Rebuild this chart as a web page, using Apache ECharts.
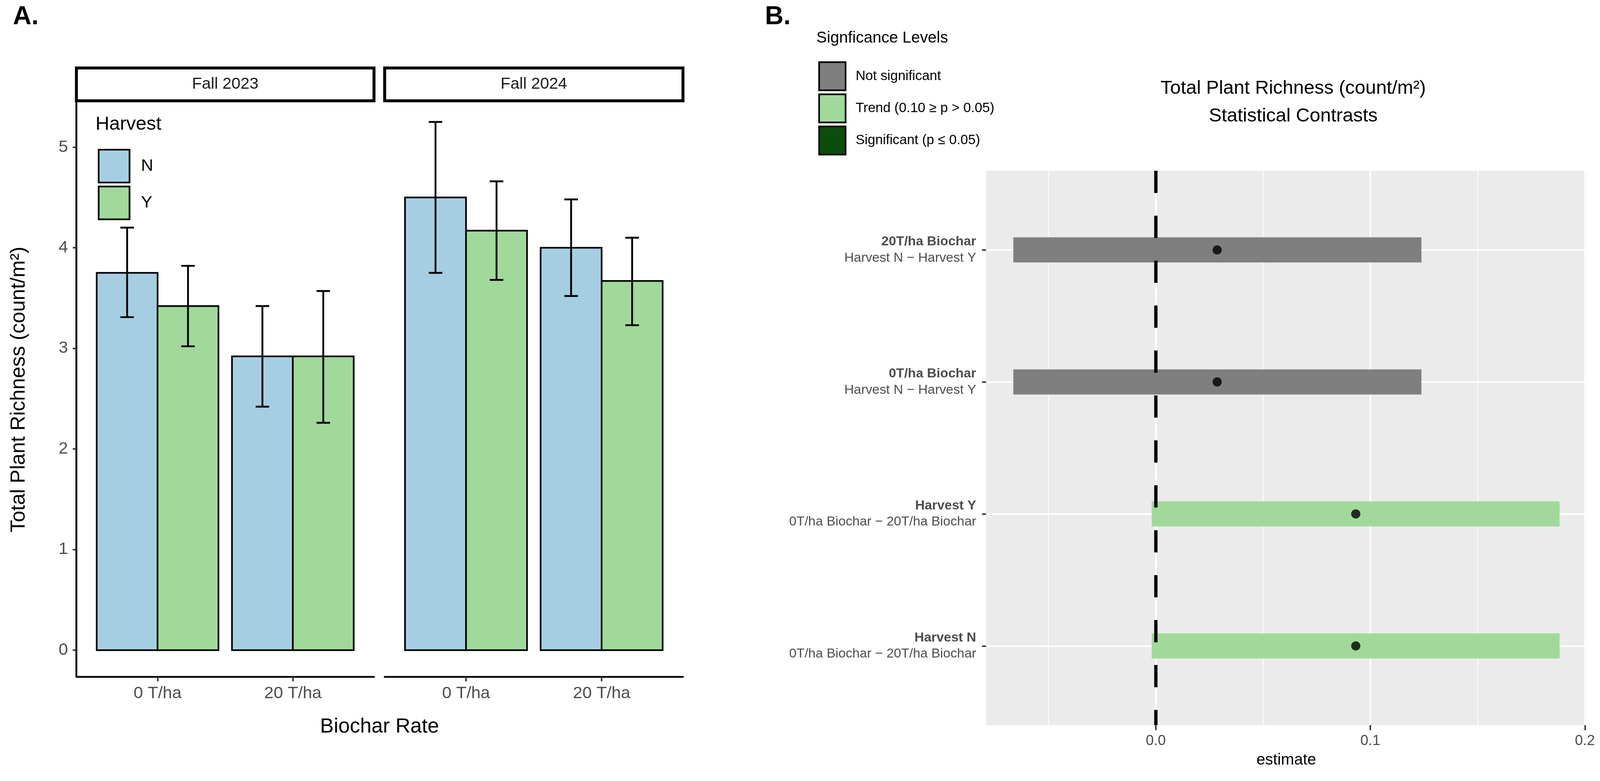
<!DOCTYPE html>
<html>
<head>
<meta charset="utf-8">
<script src="https://cdn.jsdelivr.net/npm/echarts@6/dist/echarts.min.js"></script>
<style>
  html, body { margin: 0; padding: 0; background: #fff; overflow: hidden; }
  #main { width: 100vw; height: 100vh; }
</style>
</head>
<body>
<div id="main"></div>
<script>
// ---- Panel A data: richness by facet x biochar rate, split by harvest ----
const facets = ["Fall 2023", "Fall 2024"];
const rates = ["0 T/ha", "20 T/ha"];
const harvestLevels = ["N", "Y"];
// [facet][rate]
const meanN = [[3.75, 2.92], [4.50, 4.00]];
const lowN  = [[3.31, 2.42], [3.75, 3.52]];
const highN = [[4.20, 3.42], [5.25, 4.48]];
const meanY = [[3.42, 2.92], [4.17, 3.67]];
const lowY  = [[3.02, 2.26], [3.68, 3.23]];
const highY = [[3.82, 3.57], [4.66, 4.10]];
const yTicksA = [0, 1, 2, 3, 4, 5];

// ---- Panel B data: contrasts ----
const contrastGroups = ["20T/ha Biochar", "0T/ha Biochar", "Harvest Y", "Harvest N"];
const contrastNames = [
  "Harvest N − Harvest Y",
  "Harvest N − Harvest Y",
  "0T/ha Biochar − 20T/ha Biochar",
  "0T/ha Biochar − 20T/ha Biochar",
];
const estimates = [0.0286, 0.0286, 0.0932, 0.0932];
const ciLow  = [-0.0664, -0.0664, -0.0019, -0.0019];
const ciHigh = [0.1238, 0.1238, 0.1882, 0.1882];
const sigLevel = ["Not significant", "Not significant", "Trend (0.10 ≥ p > 0.05)", "Trend (0.10 ≥ p > 0.05)"];
const sigNames = ["Not significant", "Trend (0.10 ≥ p > 0.05)", "Significant (p ≤ 0.05)"];
const xTicksB = [0, 0.1, 0.2];
const xMinorB = [-0.05, 0.05, 0.15];

// ---- styling ----
const FONT = '"Liberation Sans", Arial, Helvetica, sans-serif';
const HARVEST_COL = { N: "#A6CEE3", Y: "#A1D99B" };
const SIG_COL = ["#7F7F7F", "#A1D99B", "#0B4D0B"];
const INK = "#000";
const TICKTXT = "#4D4D4D";
const TICK = "#333333";

const BAR_W = 0.45;     // dodged bar width in axis units
const CAP_HALF = 0.05;  // error bar cap half width
const RIBBON_H = 0.19;  // contrast ribbon height in row units

// layout is laid out on a 4355 x 1999 design and scaled to the real viewport
const el = document.getElementById("main");
const chart = echarts.init(el, null, { renderer: "canvas" });
const sx = chart.getWidth() / 4355;
const sy = chart.getHeight() / 1999;
const sf = Math.min(sx, sy);
const X = (v) => v * sx;
const Y = (v) => v * sy;
const F = (v) => v * sf;

function barRender(offset) {
  return function (params, api) {
    const x = api.value(0) + offset;
    const v = api.value(1), lo = api.value(2), hi = api.value(3);
    const p0 = api.coord([x - BAR_W / 2, 0]);
    const p1 = api.coord([x + BAR_W / 2, v]);
    const top = api.coord([x, hi]);
    const bot = api.coord([x, lo]);
    const cap = api.size([CAP_HALF, 0])[0];
    const ln = { stroke: INK, lineWidth: F(5) };
    return {
      type: "group",
      children: [
        { type: "rect", shape: { x: p0[0], y: p1[1], width: p1[0] - p0[0], height: p0[1] - p1[1] },
          style: { fill: api.visual("color"), stroke: INK, lineWidth: F(4.5) } },
        { type: "line", z2: 10, shape: { x1: top[0], y1: top[1], x2: bot[0], y2: bot[1] }, style: ln },
        { type: "line", z2: 10, shape: { x1: top[0] - cap, y1: top[1], x2: top[0] + cap, y2: top[1] }, style: ln },
        { type: "line", z2: 10, shape: { x1: bot[0] - cap, y1: bot[1], x2: bot[0] + cap, y2: bot[1] }, style: ln },
      ],
    };
  };
}

function ribbonRender(params, api) {
  const row = api.value(1), lo = api.value(2), hi = api.value(3);
  const a = api.coord([lo, row]);
  const b = api.coord([hi, row]);
  const h = api.size([0, RIBBON_H])[1];
  return { type: "rect", shape: { x: a[0], y: a[1] - h / 2, width: b[0] - a[0], height: h },
           style: { fill: api.visual("color") } };
}

// ---- grids ----
const gridA1 = { left: 208, top: 262, width: 810, height: 1470 };
const gridA2 = { left: 1047, top: 262, width: 812, height: 1470 };
const gridB = { left: 2684, top: 437, width: 1634, height: 1419 };
const toGrid = (g) => ({ left: X(g.left), top: Y(g.top), width: X(g.width), height: Y(g.height) });
const grids = [
  toGrid(gridA1),
  toGrid(gridA2),
  Object.assign(toGrid(gridB), { show: true, backgroundColor: "#EBEBEB", borderWidth: 0 }),
];

function catXAxis(gridIndex) {
  return {
    type: "value", gridIndex, min: 0.4, max: 2.6,
    axisLine: { show: true, onZero: false, lineStyle: { color: INK, width: F(5) } },
    axisTick: { show: true, length: Y(12), customValues: [1, 2], lineStyle: { color: TICK, width: F(4) } },
    axisLabel: { customValues: [1, 2], formatter: (v) => rates[Math.round(v) - 1], margin: Y(22),
                 color: TICKTXT, fontSize: F(46), fontFamily: FONT },
    splitLine: { show: false },
  };
}

function richYAxis(gridIndex, showAxis) {
  return {
    type: "value", gridIndex, min: -0.264, max: 5.445,
    axisLine: { show: showAxis, onZero: false, lineStyle: { color: INK, width: F(5) } },
    axisTick: { show: showAxis, length: X(10), customValues: yTicksA, lineStyle: { color: TICK, width: F(4) } },
    axisLabel: { show: showAxis, customValues: yTicksA, margin: X(23), color: TICKTXT, fontSize: F(46), fontFamily: FONT },
    splitLine: { show: false },
    name: showAxis ? "Total Plant Richness (count/m²)" : "",
    nameLocation: "middle", nameGap: X(128), nameRotate: 90,
    nameTextStyle: { color: INK, fontSize: F(56), fontFamily: FONT },
  };
}

const xAxes = [
  catXAxis(0),
  catXAxis(1),
  {
    type: "value", gridIndex: 2, min: -0.0791, max: 0.2007,
    axisLine: { show: false, onZero: false },
    axisTick: { show: true, length: Y(13), customValues: xTicksB, lineStyle: { color: TICK, width: F(4) } },
    axisLabel: { customValues: xTicksB, formatter: (v) => v.toFixed(1), margin: Y(22),
                 color: TICKTXT, fontSize: F(39), fontFamily: FONT },
    splitLine: { show: true, lineStyle: { color: "#fff", width: F(4.5) } },
    name: "estimate", nameLocation: "middle", nameGap: Y(70),
    nameTextStyle: { color: INK, fontSize: F(43), fontFamily: FONT },
  },
  {
    type: "value", gridIndex: 2, min: -0.0791, max: 0.2007, position: "top",
    axisLine: { show: false, onZero: false },
    axisTick: { show: false, customValues: xMinorB },
    axisLabel: { show: false, customValues: xMinorB },
    splitLine: { show: true, lineStyle: { color: "#fff", width: F(2.2) } },
  },
];

const yAxes = [
  richYAxis(0, true),
  richYAxis(1, false),
  {
    type: "value", gridIndex: 2, min: 0.4, max: 4.6, inverse: true,
    axisLine: { show: false, onZero: false },
    axisTick: { show: true, length: X(11), customValues: [1, 2, 3, 4], lineStyle: { color: TICK, width: F(4) } },
    axisLabel: {
      customValues: [1, 2, 3, 4], margin: X(27),
      formatter: (v) => {
        const i = Math.round(v) - 1;
        return "{b|" + contrastGroups[i] + "}\n{n|" + contrastNames[i] + "}";
      },
      rich: {
        b: { fontWeight: "bold", fontSize: F(36), color: TICKTXT, fontFamily: FONT, lineHeight: F(44), align: "right" },
        n: { fontSize: F(36), color: TICKTXT, fontFamily: FONT, lineHeight: F(44), align: "right" },
      },
    },
    splitLine: { show: true, lineStyle: { color: "#fff", width: F(4.5) } },
  },
];

// ---- series ----
const series = [];
facets.forEach((f, fi) => {
  series.push({
    type: "custom", name: "N", xAxisIndex: fi, yAxisIndex: fi,
    itemStyle: { color: HARVEST_COL.N },
    renderItem: barRender(-BAR_W / 2),
    data: rates.map((r, ri) => [ri + 1, meanN[fi][ri], lowN[fi][ri], highN[fi][ri]]),
  });
  series.push({
    type: "custom", name: "Y", xAxisIndex: fi, yAxisIndex: fi,
    itemStyle: { color: HARVEST_COL.Y },
    renderItem: barRender(BAR_W / 2),
    data: rates.map((r, ri) => [ri + 1, meanY[fi][ri], lowY[fi][ri], highY[fi][ri]]),
  });
});

sigNames.forEach((s, si) => {
  const rows = [];
  sigLevel.forEach((lvl, i) => {
    if (lvl === s) rows.push([estimates[i], i + 1, ciLow[i], ciHigh[i]]);
  });
  series.push({
    type: "custom", name: s, xAxisIndex: 2, yAxisIndex: 2, z: 2,
    itemStyle: { color: SIG_COL[si] },
    renderItem: ribbonRender,
    data: rows,
  });
});

series.push({
  type: "scatter", name: "_estimate", xAxisIndex: 2, yAxisIndex: 2, z: 5,
  symbol: "circle", symbolSize: F(25),
  itemStyle: { color: INK },
  data: estimates.map((e, i) => [e, i + 1]),
  markLine: {
    silent: true, symbol: "none", label: { show: false },
    lineStyle: { color: INK, type: [Y(57), Y(58)], width: F(9) },
    data: [{ xAxis: 0 }],
  },
});

// ---- text & strips ----
function txt(x, y, text, size, opts = {}) {
  return {
    type: "text", x: X(x), y: Y(y), silent: true,
    style: Object.assign({ text, fill: INK, font: `${opts.weight || "normal"} ${F(size)}px ${FONT}`,
                           align: "center", verticalAlign: "middle" }, opts.style || {}),
  };
}

const stripBox = (g) => ({
  type: "rect", silent: true,
  shape: { x: X(g.left), y: Y(174), width: X(g.width), height: Y(84) },
  style: { fill: "#fff", stroke: INK, lineWidth: F(8) },
});

const graphic = [
  txt(35, 44, "A.", 70, { weight: "bold", style: { align: "left" } }),
  txt(2082, 44, "B.", 70, { weight: "bold", style: { align: "left" } }),
  stripBox(gridA1), stripBox(gridA2),
  txt(gridA1.left + gridA1.width / 2, 216, facets[0], 44, { style: { fill: "#1A1A1A" } }),
  txt(gridA2.left + gridA2.width / 2, 216, facets[1], 44, { style: { fill: "#1A1A1A" } }),
  txt(1033, 1860, "Biochar Rate", 56),
  txt(260, 319, "Harvest", 52, { style: { align: "left" } }),
  txt(2222, 98, "Signficance Levels", 43, { style: { align: "left" } }),
  txt(3520, 227, "Total Plant Richness (count/m²)", 52),
  txt(3520, 298, "Statistical Contrasts", 52),
];

const keyStyle = (c) => ({ color: c, borderColor: INK, borderWidth: F(4.5) });

const option = {
  animation: false,
  backgroundColor: "#fff",
  textStyle: { fontFamily: FONT },
  grid: grids,
  xAxis: xAxes,
  yAxis: yAxes,
  legend: [
    {
      orient: "vertical", left: X(261), top: Y(376), selectedMode: false,
      itemWidth: X(84), itemHeight: Y(84), itemGap: Y(6), icon: "rect",
      textStyle: { fontSize: F(46), color: INK, fontFamily: FONT, padding: [0, 0, 0, X(26)] },
      data: harvestLevels.map((h) => ({ name: h, itemStyle: keyStyle(HARVEST_COL[h]) })),
    },
    {
      orient: "vertical", left: X(2222), top: Y(152), selectedMode: false,
      itemWidth: X(72), itemHeight: Y(72), itemGap: Y(6), icon: "rect",
      textStyle: { fontSize: F(37), color: INK, fontFamily: FONT, padding: [0, 0, 0, X(22)] },
      data: sigNames.map((s, i) => ({ name: s, itemStyle: keyStyle(SIG_COL[i]) })),
    },
  ],
  graphic,
  series,
};

chart.setOption(option);
</script>
</body>
</html>
